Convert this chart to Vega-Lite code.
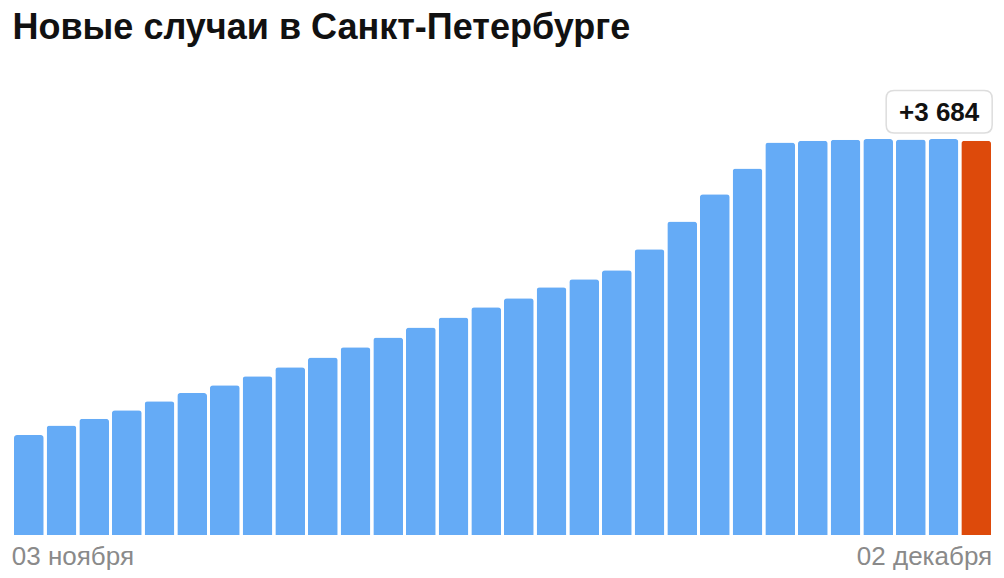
{
  "$schema": "https://vega.github.io/schema/vega-lite/v6.json",
  "autosize": "none",
  "width": 980,
  "height": 428,
  "padding": {"left": 12.5, "top": 107, "right": 11.5, "bottom": 43},
  "background": "white",
  "title": {
    "text": "Новые случаи в Санкт-Петербурге",
    "anchor": "start",
    "frame": "group",
    "font": "Liberation Sans",
    "fontSize": 36,
    "fontWeight": "bold",
    "color": "#111111",
    "offset": 41
  },
  "data": {
    "values": [
      {"date": "2020-11-03", "cases": 934},
      {"date": "2020-11-04", "cases": 1023},
      {"date": "2020-11-05", "cases": 1086},
      {"date": "2020-11-06", "cases": 1167},
      {"date": "2020-11-07", "cases": 1251},
      {"date": "2020-11-08", "cases": 1326},
      {"date": "2020-11-09", "cases": 1400},
      {"date": "2020-11-10", "cases": 1484},
      {"date": "2020-11-11", "cases": 1568},
      {"date": "2020-11-12", "cases": 1658},
      {"date": "2020-11-13", "cases": 1755},
      {"date": "2020-11-14", "cases": 1845},
      {"date": "2020-11-15", "cases": 1940},
      {"date": "2020-11-16", "cases": 2033},
      {"date": "2020-11-17", "cases": 2129},
      {"date": "2020-11-18", "cases": 2213},
      {"date": "2020-11-19", "cases": 2315},
      {"date": "2020-11-20", "cases": 2390},
      {"date": "2020-11-21", "cases": 2474},
      {"date": "2020-11-22", "cases": 2670},
      {"date": "2020-11-23", "cases": 2931},
      {"date": "2020-11-24", "cases": 3184},
      {"date": "2020-11-25", "cases": 3426},
      {"date": "2020-11-26", "cases": 3669},
      {"date": "2020-11-27", "cases": 3684},
      {"date": "2020-11-28", "cases": 3693},
      {"date": "2020-11-29", "cases": 3700},
      {"date": "2020-11-30", "cases": 3697},
      {"date": "2020-12-01", "cases": 3700},
      {"date": "2020-12-02", "cases": 3684}
    ]
  },
  "encoding": {
    "x": {
      "field": "date",
      "type": "ordinal",
      "axis": null,
      "scale": {"paddingInner": 0.09, "paddingOuter": 0.045}
    },
    "y": {
      "field": "cases",
      "type": "quantitative",
      "axis": null,
      "scale": {"domain": [0, 4000], "nice": false}
    }
  },
  "layer": [
    {
      "mark": {"type": "bar", "cornerRadiusTopLeft": 3, "cornerRadiusTopRight": 3},
      "encoding": {
        "color": {
          "condition": {"test": "datum.date === '2020-12-02'", "value": "#dd4a0b"},
          "value": "#65abf6"
        }
      }
    },
    {
      "transform": [{"filter": "datum.date === '2020-12-02'"}],
      "mark": {
        "type": "point",
        "shape": "M-0.85,-0.4 L0.85,-0.4 Q1,-0.4 1,-0.25 L1,0.25 Q1,0.4 0.85,0.4 L-0.85,0.4 Q-1,0.4 -1,0.25 L-1,-0.25 Q-1,-0.4 -0.85,-0.4 Z",
        "size": 11236,
        "filled": true,
        "fill": "white",
        "stroke": "#dddddd",
        "strokeWidth": 1.5,
        "opacity": 1,
        "xOffset": -37,
        "yOffset": -29
      }
    },
    {
      "transform": [{"filter": "datum.date === '2020-12-02'"}],
      "mark": {
        "type": "text",
        "font": "Liberation Sans",
        "fontSize": 26,
        "fontWeight": "bold",
        "color": "#111111",
        "align": "center",
        "baseline": "middle",
        "xOffset": -37,
        "yOffset": -28
      },
      "encoding": {
        "text": {"field": "cases", "type": "quantitative", "format": "+,d"}
      }
    },
    {
      "transform": [{"filter": "datum.date === '2020-11-03'"}],
      "mark": {
        "type": "text",
        "font": "Liberation Sans",
        "fontSize": 26,
        "color": "#8a8a8a",
        "align": "left",
        "baseline": "middle",
        "dx": -17,
        "yOffset": 22
      },
      "encoding": {
        "y": {"datum": 0},
        "text": {"value": "03 ноября"}
      }
    },
    {
      "transform": [{"filter": "datum.date === '2020-12-02'"}],
      "mark": {
        "type": "text",
        "font": "Liberation Sans",
        "fontSize": 26,
        "color": "#8a8a8a",
        "align": "right",
        "baseline": "middle",
        "dx": 16,
        "yOffset": 22
      },
      "encoding": {
        "y": {"datum": 0},
        "text": {"value": "02 декабря"}
      }
    }
  ],
  "config": {
    "view": {"stroke": null},
    "locale": {
      "number": {"decimal": ",", "thousands": " ", "grouping": [3], "currency": ["", " ₽"]}
    }
  }
}
